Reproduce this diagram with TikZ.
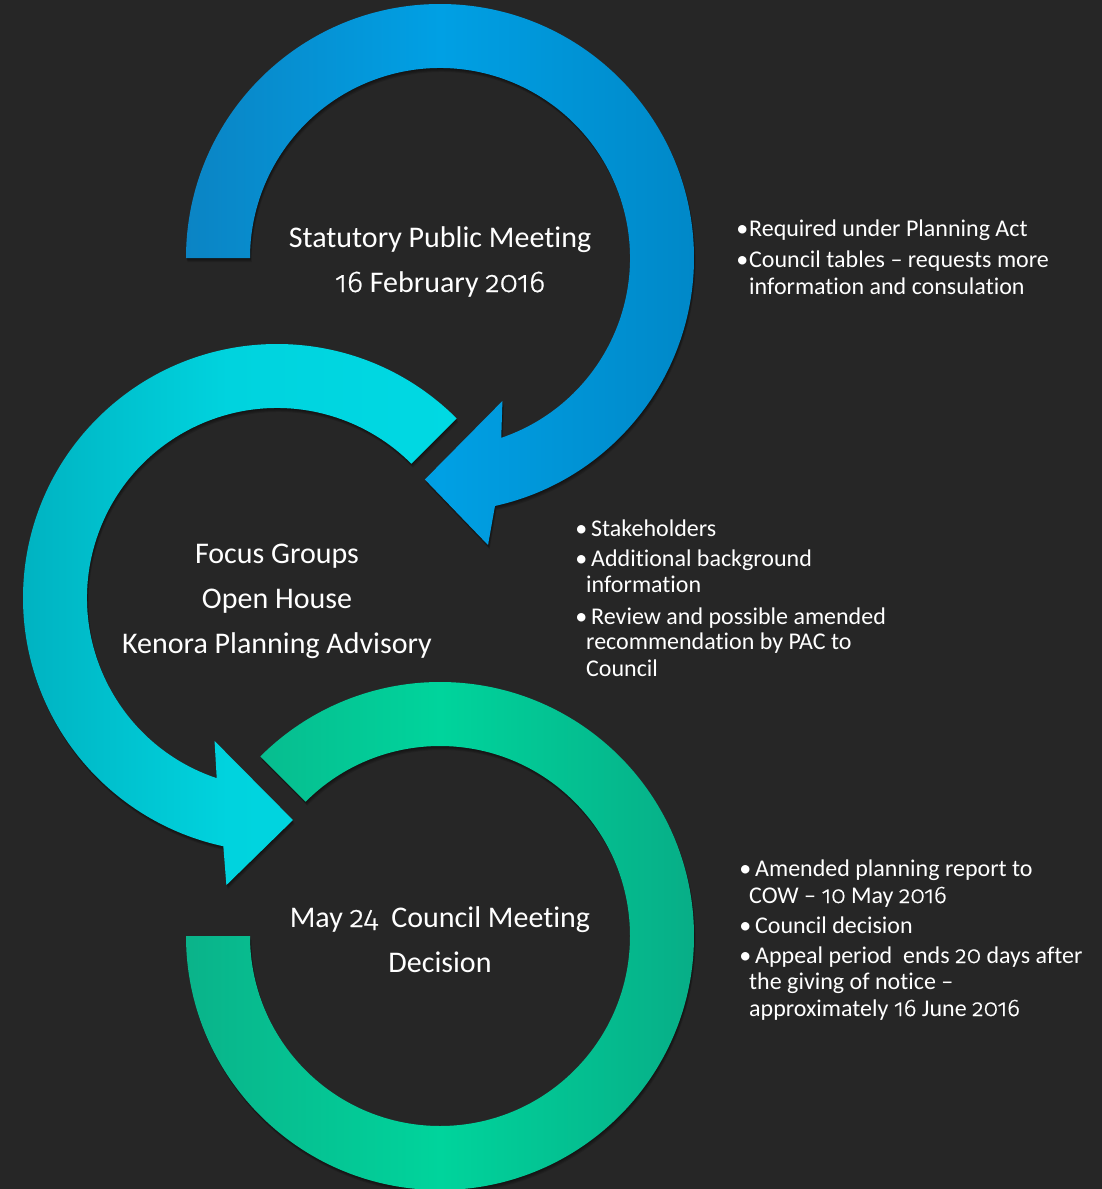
\documentclass[tikz,border=0pt]{standalone}
\usepackage{fontspec}
\setmainfont{Carlito}[Ligatures=NoCommon]
\newfontfamily\dig{Fira Sans Light}[Numbers=OldStyle, Scale=1.0, FakeBold=0.7]
\usetikzlibrary{calc}
\definecolor{bg}{HTML}{262626}
\definecolor{blueA}{HTML}{0B84C4}
\definecolor{blueB}{HTML}{00A0E4}
\definecolor{blueC}{HTML}{0088C8}
\definecolor{cyanA}{HTML}{00AFBE}
\definecolor{cyanB}{HTML}{00D3DE}
\definecolor{cyanC}{HTML}{00D9E3}
\definecolor{greenA}{HTML}{0AB38A}
\definecolor{greenB}{HTML}{00D49C}
\definecolor{greenC}{HTML}{07AE87}
\begin{document}
\begin{tikzpicture}[x=1pt,y=1pt,yscale=-1,
  lbl/.style={text=white, font=\fontsize{30}{36}\selectfont, anchor=base, inner sep=0pt},
  note/.style={text=white, font=\fontsize{24}{28}\selectfont, anchor=base west, inner sep=0pt},
  shadowlayer/.style={fill=black, opacity=0.13}]
\fill[bg] (0,0) rectangle (1102,1189);
\useasboundingbox (0,0) rectangle (1102,1189);

\coordinate (B) at (440,258);
\coordinate (C) at (277,598);
\coordinate (G) at (440,936);

\def\bluepath{($(B)+(180:254)$) arc[start angle=180,end angle=437.5,radius=254]
  -- ($(B)+(80.5:291)$) -- ($(B)+(93.9:222)$) -- ($(B)+(66.4:156)$)
  -- ($(B)+(71.2:190)$) arc[start angle=431.2,end angle=180,radius=190] -- cycle}
\def\cyanpath{($(C)+(-45:254)$) arc[start angle=-45,end angle=-257.8,radius=254]
  -- ($(C)+(-260:291.5)$) -- ($(C)+(-274.1:222.6)$) -- ($(C)+(-246.4:156)$)
  -- ($(C)+(-251.5:190)$) arc[start angle=-251.5,end angle=-45,radius=190] -- cycle}
\def\greenpath{($(G)+(180:254)$) arc[start angle=180,end angle=-135,radius=254]
  -- ($(G)+(-135:190)$) arc[start angle=-135,end angle=180,radius=190] -- cycle}

% soft shadows
\foreach \s in {1,2,3,4}{
  \begin{scope}[transform canvas={xshift=0.4*\s pt, yshift=-\s pt}]
    \fill[shadowlayer] \bluepath;
    \fill[shadowlayer] \cyanpath;
    \fill[shadowlayer] \greenpath;
  \end{scope}
}

\shade[left color=blueA, right color=blueC, middle color=blueB] \bluepath;
\shade[left color=cyanA, right color=cyanC, middle color=cyanB] \cyanpath;
\shade[left color=greenA, right color=greenC, middle color=greenB] \greenpath;

% main labels
\node[lbl] (s1a) at (440,247) {Statutory Public Meeting};
\node[lbl] (s1b) at (440,292) {{\dig 16} February {\dig 2016}};
\node[lbl] (s2a) at (277,563) {Focus Groups};
\node[lbl] (s2b) at (277,608) {Open House};
\node[lbl] (s2c) at (277,653) {Kenora Planning Advisory};
\node[lbl] (s3a) at (440,927) {May {\dig 24}\ \ Council Meeting};
\node[lbl] (s3b) at (440,972) {Decision};

% notes 1
\node[note] (n1a) at (749,236) {\llap{•\kern1pt}Required under Planning Act};
\node[note] (n1b) at (749,267) {\llap{•\kern1pt}Council tables – requests more};
\node[note] (n1c) at (749,294) {information and consulation};

% notes 2
\node[note] (n2a) at (591,536) {\llap{•\hspace{4pt}}Stakeholders};
\node[note] (n2b) at (591,566) {\llap{•\hspace{4pt}}Additional background};
\node[note] (n2c) at (586,592) {information};
\node[note] (n2d) at (591,624) {\llap{•\hspace{4pt}}Review and possible amended};
\node[note] (n2e) at (586,649) {recommendation by PAC to};
\node[note] (n2f) at (586,676) {Council};

% notes 3
\node[note] (n3a) at (755,876) {\llap{•\hspace{4pt}}Amended planning report to};
\node[note] (n3b) at (749,903) {COW – {\dig 10} May {\dig 2016}};
\node[note] (n3c) at (755,933) {\llap{•\hspace{4pt}}Council decision};
\node[note] (n3d) at (755,963) {\llap{•\hspace{4pt}}Appeal period\ \ ends {\dig 20} days after};
\node[note] (n3e) at (749,989) {the giving of notice –};
\node[note] (n3f) at (749,1016) {approximately {\dig 16} June {\dig 2016}};
\end{tikzpicture}
\end{document}
